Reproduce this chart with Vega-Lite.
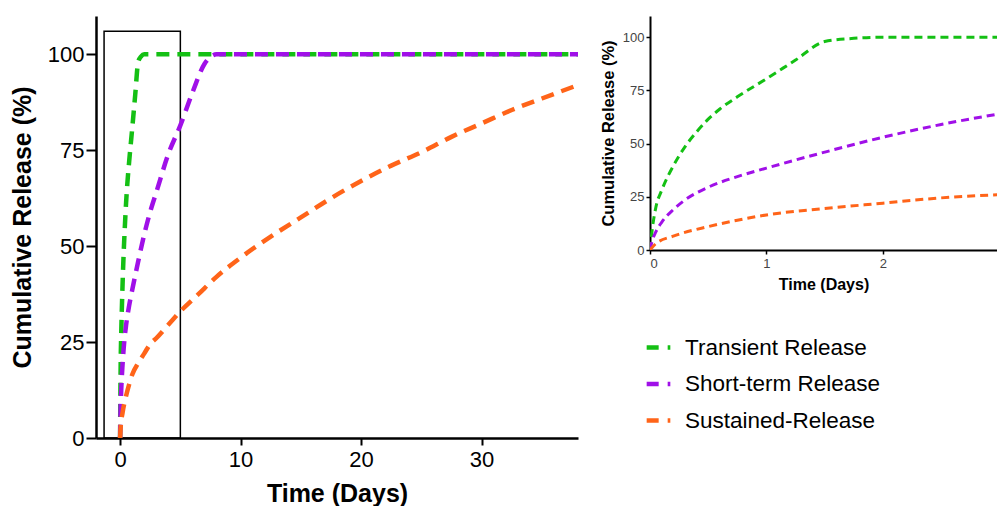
{
  "$schema": "https://vega.github.io/schema/vega-lite/v6.json",
  "padding": {"left": 10, "top": 16, "right": 0, "bottom": 0},
  "autosize": {"type": "pad"},
  "bounds": "flush",
  "spacing": 72,
  "config": {
    "view": {"stroke": null},
    "font": "Liberation Sans",
    "axis": {"grid": false, "domainColor": "black", "tickColor": "black", "labelColor": "black", "titleColor": "black", "titleFont": "Liberation Sans", "labelFont": "Liberation Sans"}
  },
  "datasets": {
    "release": [
      {"series": "Transient Release", "t": 0, "v": 0},
      {"series": "Transient Release", "t": 0.02, "v": 10},
      {"series": "Transient Release", "t": 0.05, "v": 20},
      {"series": "Transient Release", "t": 0.1, "v": 28},
      {"series": "Transient Release", "t": 0.2, "v": 39.5},
      {"series": "Transient Release", "t": 0.3, "v": 48.5},
      {"series": "Transient Release", "t": 0.4, "v": 55.5},
      {"series": "Transient Release", "t": 0.5, "v": 61.5},
      {"series": "Transient Release", "t": 0.6, "v": 66.3},
      {"series": "Transient Release", "t": 0.75, "v": 72},
      {"series": "Transient Release", "t": 1.0, "v": 80.5},
      {"series": "Transient Release", "t": 1.25, "v": 89.3},
      {"series": "Transient Release", "t": 1.5, "v": 98},
      {"series": "Transient Release", "t": 1.75, "v": 99.5},
      {"series": "Transient Release", "t": 2.0, "v": 100},
      {"series": "Transient Release", "t": 3.0, "v": 100},
      {"series": "Transient Release", "t": 10, "v": 100},
      {"series": "Transient Release", "t": 20, "v": 100},
      {"series": "Transient Release", "t": 38, "v": 100},
      {"series": "Short-term Release", "t": 0, "v": 0},
      {"series": "Short-term Release", "t": 0.02, "v": 4.5},
      {"series": "Short-term Release", "t": 0.05, "v": 8.5},
      {"series": "Short-term Release", "t": 0.1, "v": 13},
      {"series": "Short-term Release", "t": 0.2, "v": 19},
      {"series": "Short-term Release", "t": 0.3, "v": 23.5},
      {"series": "Short-term Release", "t": 0.5, "v": 29.5},
      {"series": "Short-term Release", "t": 0.75, "v": 34.5},
      {"series": "Short-term Release", "t": 1.0, "v": 38.5},
      {"series": "Short-term Release", "t": 1.5, "v": 46},
      {"series": "Short-term Release", "t": 2.0, "v": 53},
      {"series": "Short-term Release", "t": 2.5, "v": 59},
      {"series": "Short-term Release", "t": 3.0, "v": 64},
      {"series": "Short-term Release", "t": 4.0, "v": 74},
      {"series": "Short-term Release", "t": 5.0, "v": 81.5},
      {"series": "Short-term Release", "t": 6.0, "v": 90},
      {"series": "Short-term Release", "t": 7.0, "v": 97.5},
      {"series": "Short-term Release", "t": 7.5, "v": 99.3},
      {"series": "Short-term Release", "t": 8.0, "v": 100},
      {"series": "Short-term Release", "t": 20, "v": 100},
      {"series": "Short-term Release", "t": 38, "v": 100},
      {"series": "Sustained-Release", "t": 0, "v": 0},
      {"series": "Sustained-Release", "t": 0.05, "v": 3},
      {"series": "Sustained-Release", "t": 0.2, "v": 6.5},
      {"series": "Sustained-Release", "t": 0.5, "v": 11},
      {"series": "Sustained-Release", "t": 0.75, "v": 14},
      {"series": "Sustained-Release", "t": 1.0, "v": 16.5},
      {"series": "Sustained-Release", "t": 1.5, "v": 19.5},
      {"series": "Sustained-Release", "t": 2.0, "v": 22},
      {"series": "Sustained-Release", "t": 2.5, "v": 24.5},
      {"series": "Sustained-Release", "t": 3.0, "v": 26},
      {"series": "Sustained-Release", "t": 4.0, "v": 29.5},
      {"series": "Sustained-Release", "t": 5.0, "v": 33},
      {"series": "Sustained-Release", "t": 6.5, "v": 37.5},
      {"series": "Sustained-Release", "t": 8.0, "v": 42},
      {"series": "Sustained-Release", "t": 10, "v": 47},
      {"series": "Sustained-Release", "t": 12.5, "v": 52.5},
      {"series": "Sustained-Release", "t": 15, "v": 57.5},
      {"series": "Sustained-Release", "t": 17.5, "v": 62.5},
      {"series": "Sustained-Release", "t": 20, "v": 67},
      {"series": "Sustained-Release", "t": 22.5, "v": 71},
      {"series": "Sustained-Release", "t": 25, "v": 74.5},
      {"series": "Sustained-Release", "t": 27.5, "v": 78.5},
      {"series": "Sustained-Release", "t": 30, "v": 82},
      {"series": "Sustained-Release", "t": 32.5, "v": 85.5},
      {"series": "Sustained-Release", "t": 35, "v": 88.5},
      {"series": "Sustained-Release", "t": 38, "v": 92}
    ],
    "box": [{"x0": -1.33, "x1": 5, "y0": 0, "y1": 106}]
  },
  "resolve": {"scale": {"color": "independent"}, "legend": {"color": "independent"}},
  "hconcat": [
    {
      "width": 482,
      "height": 422,
      "layer": [
        {
          "data": {"name": "box"},
          "mark": {"type": "rect", "fill": null, "stroke": "black", "strokeWidth": 1.5},
          "encoding": {
            "x": {"field": "x0", "type": "quantitative", "scale": {"domain": [-2, 38], "nice": false, "zero": false}},
            "x2": {"field": "x1"},
            "y": {"field": "y0", "type": "quantitative", "scale": {"domain": [0, 110], "nice": false}},
            "y2": {"field": "y1"}
          }
        },
        {
          "data": {"name": "release"},
          "mark": {"type": "line", "interpolate": "monotone", "strokeWidth": 4.5, "strokeDash": [13, 8]},
          "encoding": {
            "x": {"field": "t", "type": "quantitative", "scale": {"domain": [-2, 38], "nice": false, "zero": false},
              "axis": {"values": [0, 10, 20, 30], "title": "Time (Days)", "titleFontSize": 25, "titleFontWeight": "bold", "labelFontSize": 22, "tickSize": 7, "tickWidth": 2, "domainWidth": 2.5, "labelPadding": 4, "titlePadding": 11}},
            "y": {"field": "v", "type": "quantitative", "scale": {"domain": [0, 110], "nice": false},
              "axis": {"values": [0, 25, 50, 75, 100], "title": "Cumulative Release (%)", "titleFontSize": 25, "titleFontWeight": "bold", "labelFontSize": 22, "tickSize": 10, "tickWidth": 2, "domainWidth": 2.5, "labelPadding": 2, "titlePadding": 12}},
            "color": {"field": "series", "type": "nominal",
              "scale": {"domain": ["Transient Release", "Short-term Release", "Sustained-Release"], "range": ["#14c014", "#a010e8", "#ff6419"]},
              "legend": null},
            "order": {"field": "t", "type": "quantitative"}
          }
        }
      ]
    },
    {
      "width": 347,
      "height": 234,
      "data": {"name": "release"},
      "transform": [{"filter": "datum.t <= 3"}],
      "mark": {"type": "line", "interpolate": "monotone", "strokeWidth": 3, "strokeDash": [8, 5], "clip": true},
      "encoding": {
        "x": {"field": "t", "type": "quantitative", "scale": {"domain": [0, 2.98], "nice": false},
          "axis": {"values": [0, 1, 2], "title": "Time (Days)", "titleFontSize": 16, "titleFontWeight": "bold", "labelFontSize": 13, "labelColor": "#444444", "tickSize": 4, "tickWidth": 1.5, "domainWidth": 2, "labelPadding": 3, "titlePadding": 6}},
        "y": {"field": "v", "type": "quantitative", "scale": {"domain": [0, 110], "nice": false},
          "axis": {"values": [0, 25, 50, 75, 100], "title": "Cumulative Release (%)", "titleFontSize": 16.5, "titleFontWeight": "bold", "labelFontSize": 13, "labelColor": "#444444", "tickSize": 4, "tickWidth": 1.5, "domainWidth": 2, "labelPadding": 2, "titlePadding": 6}},
        "color": {"field": "series", "type": "nominal",
          "scale": {"domain": ["Transient Release", "Short-term Release", "Sustained-Release"], "range": ["#14c014", "#a010e8", "#ff6419"]},
          "legend": {"title": null, "orient": "none", "legendX": -6, "legendY": 317, "padding": 0, "symbolType": "stroke", "symbolSize": 560, "symbolStrokeWidth": 4.5, "symbolDash": [12, 9], "labelFontSize": 22.5, "labelColor": "black", "labelOffset": 12, "labelLimit": 400, "rowPadding": 10.5}},
        "order": {"field": "t", "type": "quantitative"}
      }
    }
  ]
}
